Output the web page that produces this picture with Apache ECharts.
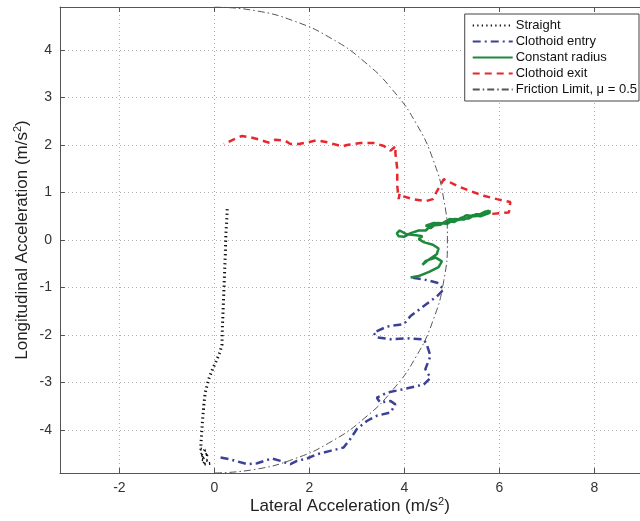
<!DOCTYPE html>
<html>
<head>
<meta charset="utf-8">
<script src="https://cdn.jsdelivr.net/npm/echarts@6/dist/echarts.min.js"></script>
<style>
html,body{margin:0;padding:0;background:#fff;}
#chart{width:640px;height:521px;}
</style>
</head>
<body>
<div id="chart"></div>
<script>
// ---- data ----
const seriesNames = ['Straight', 'Clothoid entry', 'Constant radius', 'Clothoid exit', 'Friction Limit, \u03bc = 0.5'];

const straight = [
  [0.27,0.65],[0.26,0.4],[0.24,0.1],[0.23,-0.3],[0.21,-0.8],[0.19,-1.3],[0.17,-1.8],[0.16,-2.2],
  [0.12,-2.35],[0.06,-2.5],[-0.03,-2.7],[-0.12,-2.93],[-0.19,-3.2],[-0.22,-3.45],[-0.25,-3.8],
  [-0.27,-4.1],[-0.29,-4.4],[-0.2,-4.42],[-0.3,-4.55],[-0.12,-4.5],[-0.28,-4.62],[-0.15,-4.64],
  [-0.25,-4.72],[-0.05,-4.7]
];

const clothoidEntry = [
  [0.13,-4.58],[0.34,-4.62],[0.69,-4.72],[0.9,-4.7],[1.21,-4.6],[1.39,-4.65],[1.6,-4.72],[1.74,-4.65],
  [1.95,-4.6],[2.16,-4.51],[2.44,-4.44],[2.72,-4.37],[2.86,-4.19],[3.0,-3.98],[3.21,-3.81],[3.42,-3.7],
  [3.71,-3.63],[3.81,-3.46],[3.71,-3.39],[3.49,-3.42],[3.42,-3.32],[3.64,-3.21],[3.99,-3.14],[4.41,-3.04],
  [4.55,-2.9],[4.44,-2.72],[4.55,-2.44],[4.48,-2.23],[4.41,-2.09],[4.06,-2.07],[3.71,-2.09],[3.42,-2.05],
  [3.35,-1.95],[3.64,-1.82],[3.99,-1.77],[4.13,-1.6],[4.41,-1.39],[4.69,-1.18],[4.83,-1.04],[4.69,-0.9],
  [4.41,-0.83],[4.13,-0.79]
];

const constantRadius = [
  [4.13,-0.79],[4.3,-0.76],[4.52,-0.67],[4.72,-0.57],[4.79,-0.45],[4.66,-0.37],[4.45,-0.44],[4.38,-0.52],
  [4.5,-0.42],[4.68,-0.3],[4.72,-0.18],[4.6,-0.1],[4.42,-0.05],[4.3,0.02],[4.38,0.08],[4.25,0.1],
  [4.05,0.12],[3.9,0.2],[3.84,0.14],[3.88,0.08],[4.0,0.07],[4.12,0.14],[4.3,0.2],[4.45,0.2],
  [4.55,0.3],[4.75,0.32],[4.9,0.4],[5.05,0.38],[5.2,0.47],[5.35,0.45],[5.5,0.54],[5.65,0.55],
  [5.77,0.62],[5.8,0.57],[5.6,0.5],[5.45,0.52],[5.25,0.43],[5.05,0.44],[4.9,0.34],[4.7,0.36],
  [4.55,0.25],[4.45,0.3],[4.62,0.36],[4.8,0.35],[4.95,0.44],[5.15,0.42],[5.3,0.52],[5.5,0.5],
  [5.7,0.6],[5.82,0.6]
];

const clothoidExit = [
  [5.85,0.55],[6.2,0.58],[6.23,0.8],[5.95,0.86],[5.67,0.93],[5.39,1.03],[5.11,1.14],[4.83,1.28],
  [4.67,1.0],[4.6,0.86],[4.46,0.82],[4.18,0.86],[3.97,0.92],[3.9,0.98],[3.88,0.86],[3.85,1.14],
  [3.85,1.49],[3.81,1.84],[3.82,1.98],[3.71,1.88],[3.57,1.98],[3.36,2.04],[3.07,2.04],[2.79,2.0],
  [2.69,1.97],[2.41,2.05],[2.16,2.1],[2.02,2.07],[1.78,2.02],[1.6,2.02],[1.49,2.09],[1.28,2.11],
  [1.14,2.05],[0.93,2.12],[0.76,2.16],[0.58,2.19],[0.41,2.12],[0.2,2.02]
];

const frictionLimit = [
  [0,4.905],[0.852,4.83],[1.678,4.609],[2.453,4.248],[3.153,3.757],[3.757,3.153],[4.248,2.453],
  [4.609,1.678],[4.83,0.852],[4.905,0],[4.83,-0.852],[4.609,-1.678],[4.248,-2.453],[3.757,-3.153],
  [3.153,-3.757],[2.453,-4.248],[1.678,-4.609],[0.852,-4.83],[0,-4.905]
];

const xRange = [-3.25, 8.96];
const yRange = [-4.905, 4.905];

// ---- chart ----
const FONT = "'Liberation Sans', Arial, Helvetica, sans-serif";
const axisColor = '#555';
const gridLine = {show: true, showMinLine: false, showMaxLine: false,
  lineStyle: {color: '#b0b0b0', width: 1, type: [1, 3]}};

const chart = echarts.init(document.getElementById('chart'), null, {renderer: 'canvas'});

function lineSeries(name, data, color, width, type) {
  return {
    name: name, type: 'line', data: data, symbol: 'none', smooth: false,
    clip: true, animation: false,
    lineStyle: {color: color, width: width, type: type, cap: 'butt'},
    itemStyle: {color: color},
    emphasis: {disabled: true}
  };
}

const supRich = {sup: {fontSize: 11, verticalAlign: 'top', lineHeight: 20, fontFamily: FONT, color: '#222'}};

chart.setOption({
  animation: false,
  backgroundColor: '#fff',
  textStyle: {fontFamily: FONT},
  grid: {left: 60, right: 0, top: 7, bottom: 48, containLabel: false, outerBoundsMode: 'none'},
  legend: {
    show: true, orient: 'vertical', right: 1, top: 14,
    data: seriesNames,
    itemWidth: 40, itemHeight: 12, itemGap: 3,
    padding: [5, 2, 5, 7],
    backgroundColor: '#fff', borderColor: '#444', borderWidth: 1, borderRadius: 0,
    itemStyle: {color: 'rgba(0,0,0,0)', borderWidth: 0, borderColor: 'rgba(0,0,0,0)'},
    textStyle: {fontFamily: FONT, fontSize: 13, color: '#111', padding: [0, 0, 0, -2]},
    selectedMode: false
  },
  xAxis: [{
    type: 'value', min: xRange[0], max: xRange[1], splitNumber: 6,
    position: 'bottom',
    name: 'Lateral Acceleration (m/s{sup|2})', nameLocation: 'middle', nameGap: 23,
    nameMoveOverlap: false,
    nameTextStyle: {fontFamily: FONT, fontSize: 17, color: '#222', lineHeight: 20, rich: supRich},
    axisLine: {show: true, onZero: false, lineStyle: {color: axisColor, width: 1}},
    axisTick: {show: true, inside: true, length: 5, lineStyle: {color: axisColor}},
    axisLabel: {show: true, margin: 8, fontSize: 14, color: '#333', fontFamily: FONT,
      showMinLabel: false, showMaxLabel: false},
    splitLine: gridLine
  }, {
    type: 'value', min: xRange[0], max: xRange[1], splitNumber: 6,
    position: 'top',
    axisLine: {show: true, onZero: false, lineStyle: {color: axisColor, width: 1}},
    axisTick: {show: true, inside: true, length: 5, lineStyle: {color: axisColor}},
    axisLabel: {show: false},
    splitLine: {show: false}
  }],
  yAxis: [{
    type: 'value', min: yRange[0], max: yRange[1], splitNumber: 10,
    name: 'Longitudinal Acceleration (m/s{sup|2})', nameLocation: 'middle', nameGap: 28,
    nameRotate: 90, nameMoveOverlap: false,
    nameTextStyle: {fontFamily: FONT, fontSize: 17, color: '#222', lineHeight: 20, rich: supRich},
    axisLine: {show: true, onZero: false, lineStyle: {color: axisColor, width: 1}},
    axisTick: {show: true, inside: true, length: 5, lineStyle: {color: axisColor}},
    axisLabel: {show: true, margin: 8, fontSize: 14, color: '#333', fontFamily: FONT,
      showMinLabel: false, showMaxLabel: false},
    splitLine: gridLine
  }],
  series: [
    lineSeries(seriesNames[0], straight, '#111111', 3, [1.3, 3.2]),
    lineSeries(seriesNames[1], clothoidEntry, '#3b4194', 2.5, [8, 4, 2, 4]),
    lineSeries(seriesNames[2], constantRadius, '#1c8a3c', 2.5, 'solid'),
    lineSeries(seriesNames[3], clothoidExit, '#e8262d', 2.5, [7, 5]),
    Object.assign(lineSeries(seriesNames[4], frictionLimit, '#555555', 1, [7, 3, 1.5, 3]), {smooth: 0.5})
  ]
});
</script>
</body>
</html>
